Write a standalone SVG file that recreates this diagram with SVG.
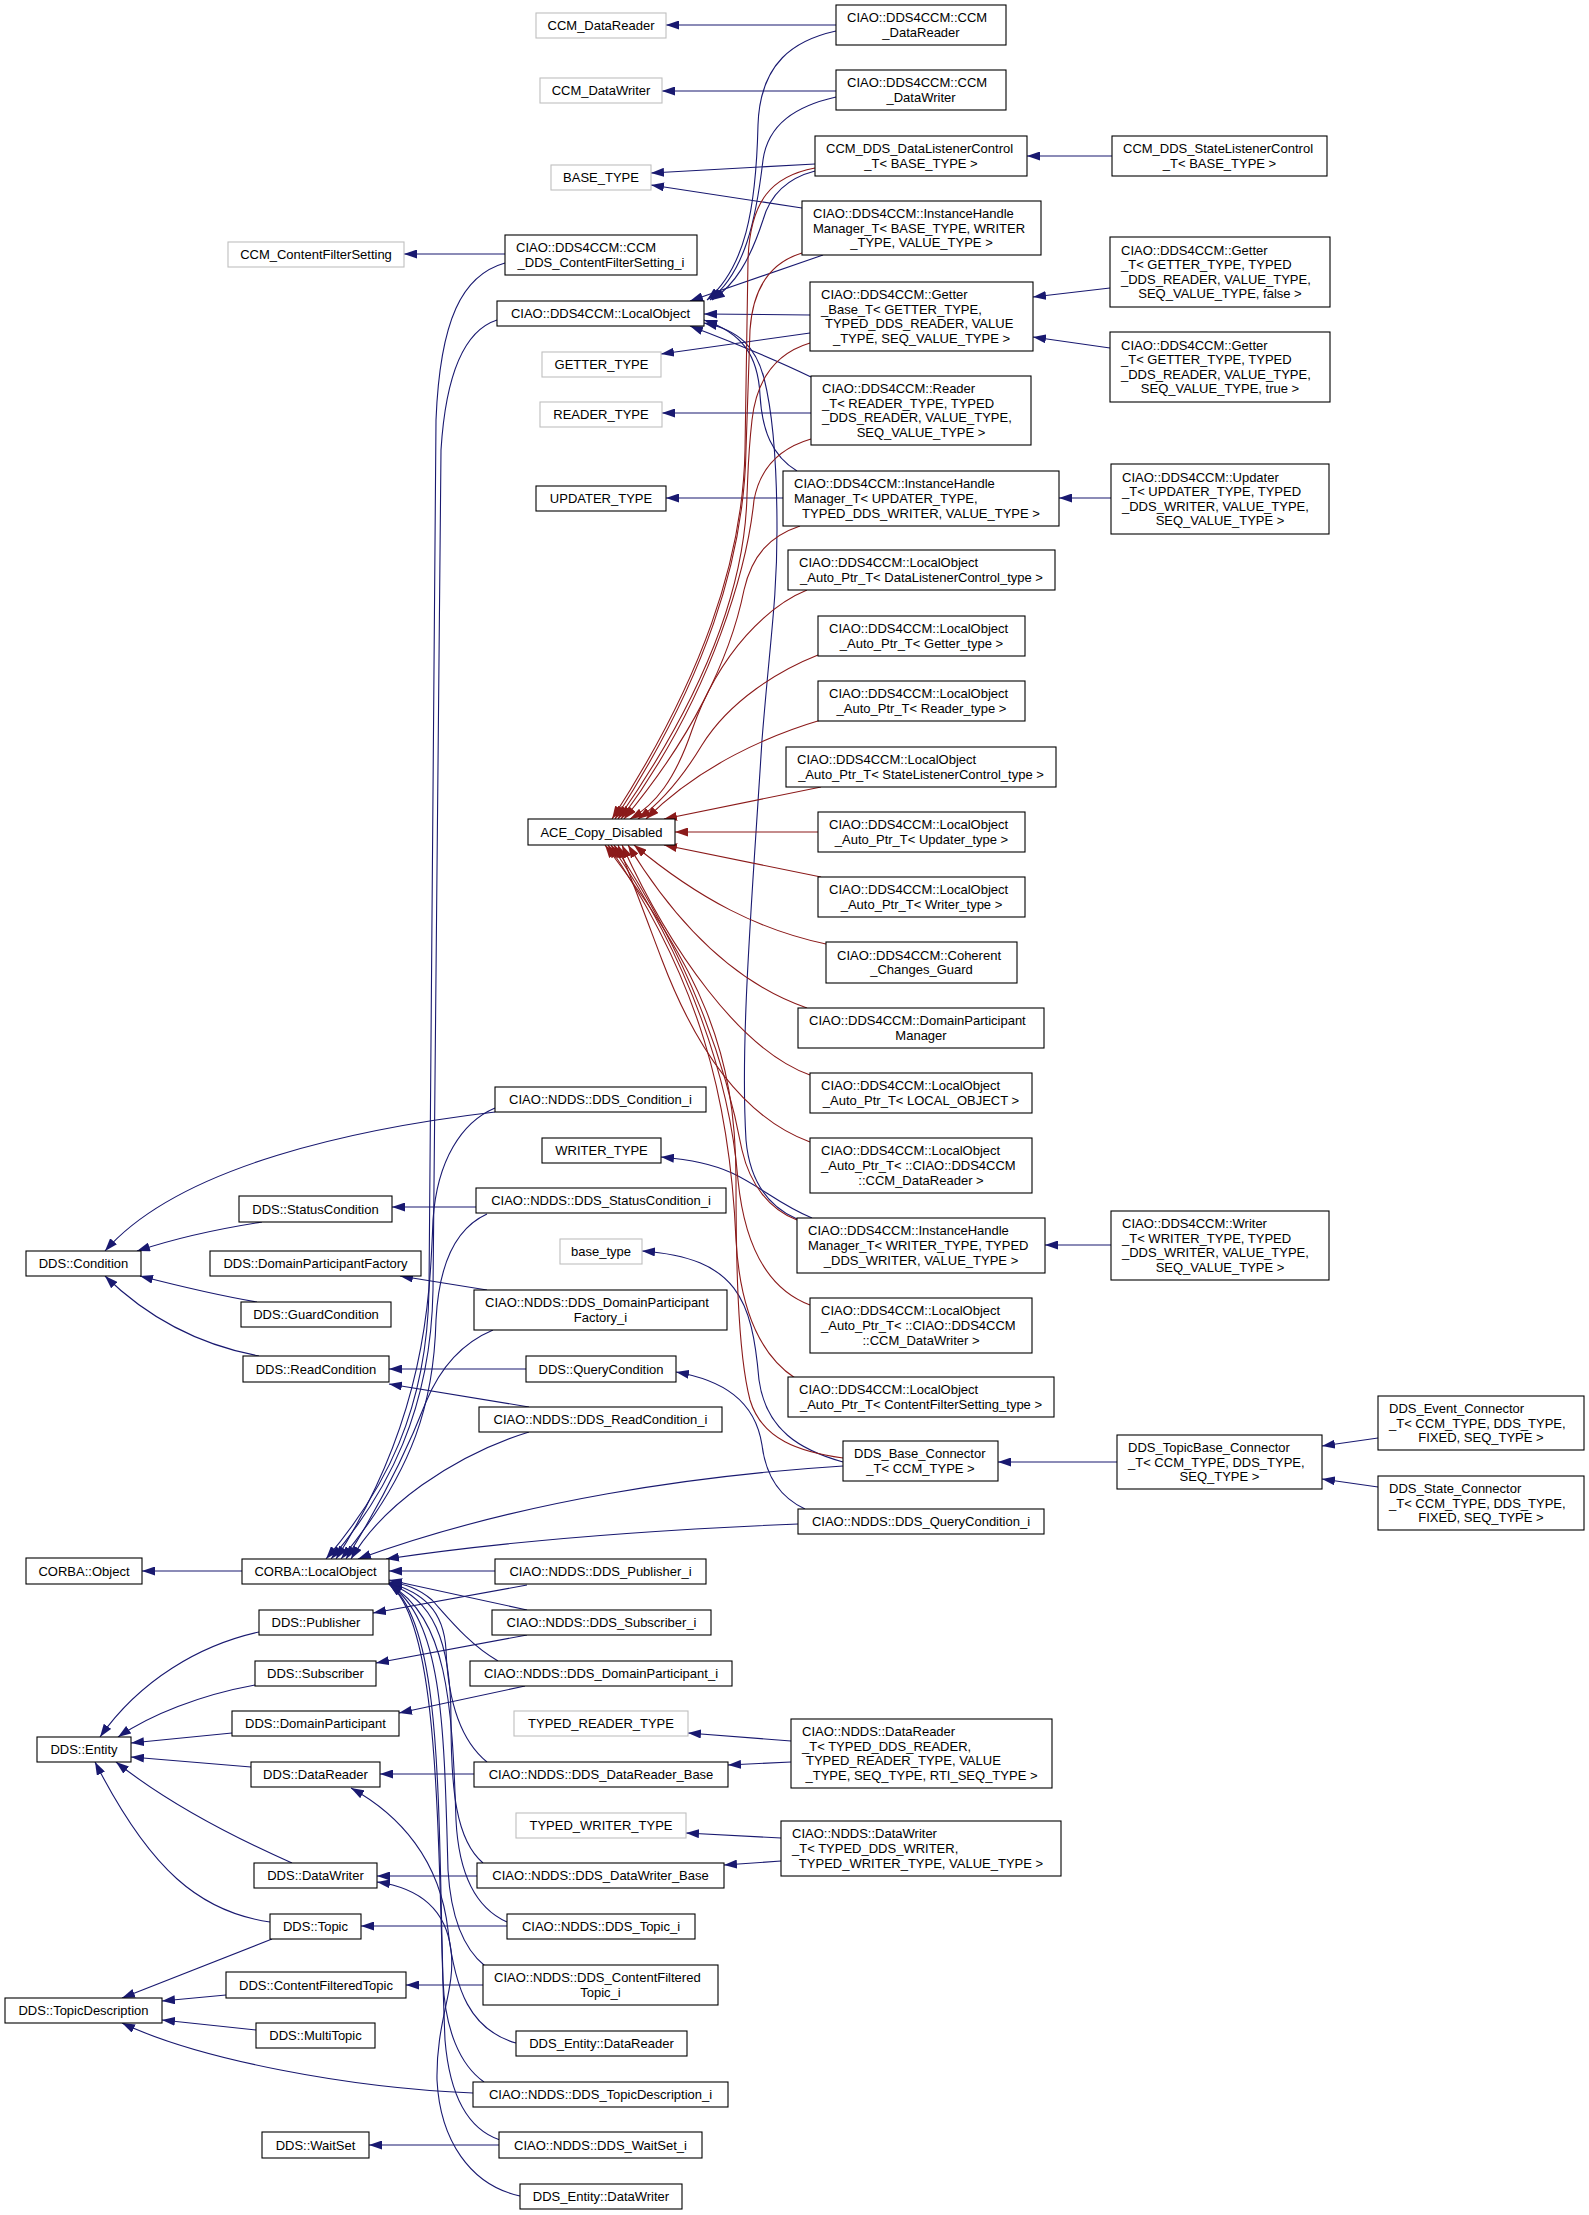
<svg xmlns="http://www.w3.org/2000/svg" width="1589" height="2215" viewBox="0 0 1589 2215">
<style>
.n rect{fill:#fff;stroke:#000;stroke-width:1.1}
.g rect{fill:#fff;stroke:#bfbfbf;stroke-width:1.1}
text{font-family:"Liberation Sans",Arial,Helvetica,sans-serif;font-size:13px;fill:#000}
.c{text-anchor:middle}
.b{fill:none;stroke:#191970;stroke-width:1.1;marker-end:url(#ab)}
.r{fill:none;stroke:#8b1a1a;stroke-width:1.1;marker-end:url(#ar)}
</style>
<defs>
<marker id="ab" viewBox="0 0 13 9" refX="13" refY="4.5" markerWidth="13" markerHeight="9" markerUnits="userSpaceOnUse" orient="auto"><path d="M0,0 L13,4.5 L0,9 z" fill="#191970"/></marker>
<marker id="ar" viewBox="0 0 13 9" refX="13" refY="4.5" markerWidth="13" markerHeight="9" markerUnits="userSpaceOnUse" orient="auto"><path d="M0,0 L13,4.5 L0,9 z" fill="#8b1a1a"/></marker>
</defs>
<rect width="1589" height="2215" fill="#fff"/>
<g id="connectors">
<path class="b" d="M836,25 L666,25"/>
<path class="b" d="M836,91 L662,91"/>
<path class="b" d="M815,164 L651,173"/>
<path class="b" d="M802,208 L651,185"/>
<path class="b" d="M1112,156 L1027,156"/>
<path class="b" d="M505,254 L404,254"/>
<path class="b" d="M810,315 L704,314"/>
<path class="b" d="M810,333 L661,354"/>
<path class="b" d="M1110,288 L1033,297"/>
<path class="b" d="M1110,348 L1033,337"/>
<path class="b" d="M811,413 L662,413"/>
<path class="b" d="M783,498 L666,498"/>
<path class="b" d="M1111,498 L1059,498"/>
<path class="b" d="M836,31 C795,40 760,62 758,125 C756,210 745,268 707,300"/>
<path class="b" d="M836,97 C796,106 768,124 763,160 C756,220 745,272 710,300"/>
<path class="b" d="M815,171 C788,178 770,195 763,220 C750,260 735,285 712,300"/>
<path class="b" d="M823,255 L690,301"/>
<path class="b" d="M811,377 C780,362 740,345 690,326"/>
<path class="b" d="M797,471 C772,456 762,430 760,395 C758,355 742,333 704,320"/>
<path class="b" d="M797,1219 C772,1208 750,1185 746,1140 C740,1040 752,900 762,740 C770,640 777,600 777,530 C777,460 772,410 764,378 C756,348 740,330 704,323"/>
<path class="b" d="M505,263 C462,275 440,320 436,420 L429,1290 C427,1410 385,1490 326,1559"/>
<path class="b" d="M497,320 C466,330 446,370 441,450 L433,1290 C431,1410 388,1492 331,1559"/>
<path class="b" d="M495,1108 C462,1122 437,1160 433,1220 C430,1300 425,1420 336,1559"/>
<path class="b" d="M487,1214 C456,1228 439,1262 436,1320 C434,1400 415,1470 341,1559"/>
<path class="b" d="M493,1330 C462,1343 440,1368 426,1402 C408,1448 383,1500 346,1559"/>
<path class="b" d="M529,1432 C490,1444 452,1464 422,1485 C394,1505 368,1530 351,1559"/>
<path class="b" d="M843,1466 C700,1475 520,1500 358,1559"/>
<path class="b" d="M798,1524 C650,1530 500,1542 386,1559"/>
<path class="b" d="M242,1571 L142,1571"/>
<path class="b" d="M495,1571 L389,1571"/>
<path class="b" d="M527,1585 L373,1613"/>
<path class="b" d="M527,1610 L389,1580"/>
<path class="b" d="M527,1635 L376,1663"/>
<path class="b" d="M498,1661 C470,1645 450,1620 432,1600 C418,1588 405,1584 389,1582"/>
<path class="b" d="M525,1686 L399,1713"/>
<path class="b" d="M487,1762 C460,1740 448,1700 446,1650 C444,1610 422,1592 389,1583"/>
<path class="b" d="M474,1774 L380,1774"/>
<path class="b" d="M791,1741 L688,1733"/>
<path class="b" d="M791,1762 L728,1765"/>
<path class="b" d="M483,1863 C456,1840 451,1790 451,1720 C451,1640 432,1598 389,1584"/>
<path class="b" d="M477,1876 L377,1876"/>
<path class="b" d="M781,1838 L686,1833"/>
<path class="b" d="M781,1861 L724,1865"/>
<path class="b" d="M507,1922 C480,1910 459,1880 456,1820 C452,1700 447,1618 389,1584"/>
<path class="b" d="M507,1926 L361,1926"/>
<path class="b" d="M485,1966 C465,1950 451,1920 448,1870 C444,1720 442,1620 389,1584"/>
<path class="b" d="M483,1985 L406,1985"/>
<path class="b" d="M484,2082 C460,2065 445,2030 443,1980 C438,1800 442,1622 389,1584"/>
<path class="b" d="M473,2093 C350,2088 200,2060 122,2023"/>
<path class="b" d="M500,2140 C470,2130 450,2100 445,2040 C437,1850 442,1624 389,1584"/>
<path class="b" d="M499,2145 L369,2145"/>
<path class="b" d="M516,2043 C470,2030 455,1990 448,1930 C440,1860 400,1815 351,1788"/>
<path class="b" d="M520,2196 C470,2185 440,2140 437,2080 C436,2020 456,1990 451,1950 C446,1910 420,1888 377,1882"/>
<path class="b" d="M259,1632 C200,1645 140,1680 100,1737"/>
<path class="b" d="M255,1685 C200,1695 150,1715 118,1737"/>
<path class="b" d="M232,1733 L131,1743"/>
<path class="b" d="M251,1767 L131,1757"/>
<path class="b" d="M292,1863 C240,1840 170,1805 116,1762"/>
<path class="b" d="M270,1922 C200,1912 150,1870 95,1762"/>
<path class="b" d="M272,1939 L122,1998"/>
<path class="b" d="M226,1995 L162,2001"/>
<path class="b" d="M256,2030 L162,2020"/>
<path class="b" d="M495,1112 C360,1128 180,1165 105,1251"/>
<path class="b" d="M262,1222 C210,1230 170,1240 137,1251"/>
<path class="b" d="M257,1302 C210,1294 175,1285 140,1276"/>
<path class="b" d="M259,1356 C200,1345 150,1320 105,1276"/>
<path class="b" d="M476,1207 L392,1207"/>
<path class="b" d="M487,1290 L400,1276"/>
<path class="b" d="M526,1369 L389,1369"/>
<path class="b" d="M529,1407 L389,1384"/>
<path class="b" d="M805,1509 C775,1495 765,1470 762,1445 C755,1400 722,1380 676,1372"/>
<path class="b" d="M843,1462 C800,1450 766,1430 759,1380 C752,1300 738,1258 642,1251"/>
<path class="b" d="M1117,1462 L998,1462"/>
<path class="b" d="M1378,1438 L1322,1446"/>
<path class="b" d="M1378,1487 L1322,1479"/>
<path class="b" d="M1111,1245 L1045,1245"/>
<path class="b" d="M812,1218 C780,1205 760,1186 732,1173 C712,1164 692,1160 661,1157"/>
<path class="r" d="M815,168 C772,176 750,200 748,260 L745,450 C743,560 702,680 612,819"/>
<path class="r" d="M802,253 C772,262 753,285 750,330 L746,450 C744,560 705,680 615,819"/>
<path class="r" d="M810,343 C780,352 757,375 752,420 C748,455 748,475 747,495 C745,585 708,690 618,819"/>
<path class="r" d="M811,439 C780,448 760,468 754,500 C748,560 716,690 621,819"/>
<path class="r" d="M800,526 C770,536 752,555 744,590 C730,660 690,740 624,819"/>
<path class="r" d="M807,590 C770,605 720,650 692,730 C675,780 655,805 630,819"/>
<path class="r" d="M818,655 C780,670 730,700 702,745 C682,778 662,802 638,819"/>
<path class="r" d="M821,720 C770,735 700,765 646,819"/>
<path class="r" d="M821,787 L664,819"/>
<path class="r" d="M818,832 L675,832"/>
<path class="r" d="M821,877 L664,845"/>
<path class="r" d="M826,944 C760,930 700,900 634,845"/>
<path class="r" d="M807,1008 C740,985 680,930 628,845"/>
<path class="r" d="M810,1075 C740,1050 670,950 622,845"/>
<path class="r" d="M810,1142 C750,1120 700,1060 662,960 C645,915 632,880 618,845"/>
<path class="r" d="M797,1220 C770,1210 750,1185 742,1150 C725,1060 690,960 614,845"/>
<path class="r" d="M810,1305 C770,1290 745,1250 738,1180 C730,1080 690,960 611,845"/>
<path class="r" d="M795,1378 C760,1355 740,1310 736,1240 C730,1100 700,980 608,845"/>
<path class="r" d="M843,1458 C800,1452 762,1440 750,1400 C737,1350 736,1250 736,1180 C736,1050 700,970 605,845"/>
</g>
<g id="n1" class="g"><rect x="536" y="13" width="130" height="25"/><text class="c" x="601" y="30">CCM_DataReader</text></g>
<g id="n2" class="n"><rect x="836" y="5" width="170" height="40"/><text x="847" y="22.2">CIAO::DDS4CCM::CCM</text><text class="c" x="921" y="36.8">_DataReader</text></g>
<g id="n3" class="g"><rect x="540" y="78" width="122" height="25"/><text class="c" x="601" y="95">CCM_DataWriter</text></g>
<g id="n4" class="n"><rect x="836" y="70" width="170" height="40"/><text x="847" y="87.2">CIAO::DDS4CCM::CCM</text><text class="c" x="921" y="101.8">_DataWriter</text></g>
<g id="n5" class="g"><rect x="551" y="165" width="100" height="25"/><text class="c" x="601" y="182">BASE_TYPE</text></g>
<g id="n6" class="n"><rect x="815" y="136" width="212" height="40"/><text x="826" y="153.2">CCM_DDS_DataListenerControl</text><text class="c" x="921" y="167.8">_T&lt; BASE_TYPE &gt;</text></g>
<g id="n7" class="n"><rect x="802" y="201" width="239" height="54"/><text x="813" y="217.9">CIAO::DDS4CCM::InstanceHandle</text><text x="813" y="232.5">Manager_T&lt; BASE_TYPE, WRITER</text><text class="c" x="921.5" y="247.1">_TYPE, VALUE_TYPE &gt;</text></g>
<g id="n8" class="n"><rect x="505" y="235" width="192" height="40"/><text x="516" y="252.2">CIAO::DDS4CCM::CCM</text><text class="c" x="601" y="266.8">_DDS_ContentFilterSetting_i</text></g>
<g id="n9" class="g"><rect x="228" y="242" width="176" height="25"/><text class="c" x="316" y="259">CCM_ContentFilterSetting</text></g>
<g id="n10" class="n"><rect x="497" y="301" width="207" height="25"/><text class="c" x="600.5" y="318">CIAO::DDS4CCM::LocalObject</text></g>
<g id="n11" class="g"><rect x="542" y="352" width="119" height="25"/><text class="c" x="601.5" y="369">GETTER_TYPE</text></g>
<g id="n12" class="n"><rect x="810" y="282" width="223" height="69"/><text x="821" y="299.1">CIAO::DDS4CCM::Getter</text><text x="821" y="313.7">_Base_T&lt; GETTER_TYPE,</text><text x="825" y="328.3">TYPED_DDS_READER, VALUE</text><text class="c" x="921.5" y="342.9">_TYPE, SEQ_VALUE_TYPE &gt;</text></g>
<g id="n13" class="g"><rect x="540" y="402" width="122" height="25"/><text class="c" x="601" y="419">READER_TYPE</text></g>
<g id="n14" class="n"><rect x="811" y="376" width="220" height="69"/><text x="822" y="393.1">CIAO::DDS4CCM::Reader</text><text x="822" y="407.7">_T&lt; READER_TYPE, TYPED</text><text x="822" y="422.3">_DDS_READER, VALUE_TYPE,</text><text class="c" x="921" y="436.9">SEQ_VALUE_TYPE &gt;</text></g>
<g id="n15" class="n"><rect x="536" y="486" width="130" height="25"/><text class="c" x="601" y="503">UPDATER_TYPE</text></g>
<g id="n16" class="n"><rect x="783" y="471" width="276" height="55"/><text x="794" y="488.4">CIAO::DDS4CCM::InstanceHandle</text><text x="794" y="503">Manager_T&lt; UPDATER_TYPE,</text><text class="c" x="921" y="517.6">TYPED_DDS_WRITER, VALUE_TYPE &gt;</text></g>
<g id="n17" class="n"><rect x="1112" y="136" width="215" height="40"/><text x="1123" y="153.2">CCM_DDS_StateListenerControl</text><text class="c" x="1219.5" y="167.8">_T&lt; BASE_TYPE &gt;</text></g>
<g id="n18" class="n"><rect x="1110" y="237" width="220" height="70"/><text x="1121" y="254.6">CIAO::DDS4CCM::Getter</text><text x="1121" y="269.2">_T&lt; GETTER_TYPE, TYPED</text><text x="1121" y="283.8">_DDS_READER, VALUE_TYPE,</text><text class="c" x="1220" y="298.4">SEQ_VALUE_TYPE, false &gt;</text></g>
<g id="n19" class="n"><rect x="1110" y="332" width="220" height="70"/><text x="1121" y="349.6">CIAO::DDS4CCM::Getter</text><text x="1121" y="364.2">_T&lt; GETTER_TYPE, TYPED</text><text x="1121" y="378.8">_DDS_READER, VALUE_TYPE,</text><text class="c" x="1220" y="393.4">SEQ_VALUE_TYPE, true &gt;</text></g>
<g id="n20" class="n"><rect x="1111" y="464" width="218" height="70"/><text x="1122" y="481.6">CIAO::DDS4CCM::Updater</text><text x="1122" y="496.2">_T&lt; UPDATER_TYPE, TYPED</text><text x="1122" y="510.8">_DDS_WRITER, VALUE_TYPE,</text><text class="c" x="1220" y="525.4">SEQ_VALUE_TYPE &gt;</text></g>
<g id="n21" class="n"><rect x="788" y="550" width="267" height="40"/><text x="799" y="567.2">CIAO::DDS4CCM::LocalObject</text><text class="c" x="921.5" y="581.8">_Auto_Ptr_T&lt; DataListenerControl_type &gt;</text></g>
<g id="n22" class="n"><rect x="818" y="616" width="207" height="40"/><text x="829" y="633.2">CIAO::DDS4CCM::LocalObject</text><text class="c" x="921.5" y="647.8">_Auto_Ptr_T&lt; Getter_type &gt;</text></g>
<g id="n23" class="n"><rect x="818" y="681" width="207" height="40"/><text x="829" y="698.2">CIAO::DDS4CCM::LocalObject</text><text class="c" x="921.5" y="712.8">_Auto_Ptr_T&lt; Reader_type &gt;</text></g>
<g id="n24" class="n"><rect x="786" y="747" width="270" height="40"/><text x="797" y="764.2">CIAO::DDS4CCM::LocalObject</text><text class="c" x="921" y="778.8">_Auto_Ptr_T&lt; StateListenerControl_type &gt;</text></g>
<g id="n25" class="n"><rect x="528" y="819" width="147" height="26"/><text class="c" x="601.5" y="836.5">ACE_Copy_Disabled</text></g>
<g id="n26" class="n"><rect x="818" y="812" width="207" height="40"/><text x="829" y="829.2">CIAO::DDS4CCM::LocalObject</text><text class="c" x="921.5" y="843.8">_Auto_Ptr_T&lt; Updater_type &gt;</text></g>
<g id="n27" class="n"><rect x="818" y="877" width="207" height="40"/><text x="829" y="894.2">CIAO::DDS4CCM::LocalObject</text><text class="c" x="921.5" y="908.8">_Auto_Ptr_T&lt; Writer_type &gt;</text></g>
<g id="n28" class="n"><rect x="826" y="942" width="191" height="41"/><text x="837" y="959.7">CIAO::DDS4CCM::Coherent</text><text class="c" x="921.5" y="974.3">_Changes_Guard</text></g>
<g id="n29" class="n"><rect x="798" y="1008" width="246" height="40"/><text x="809" y="1025.2">CIAO::DDS4CCM::DomainParticipant</text><text class="c" x="921" y="1039.8">Manager</text></g>
<g id="n30" class="n"><rect x="810" y="1073" width="222" height="40"/><text x="821" y="1090.2">CIAO::DDS4CCM::LocalObject</text><text class="c" x="921" y="1104.8">_Auto_Ptr_T&lt; LOCAL_OBJECT &gt;</text></g>
<g id="n31" class="n"><rect x="810" y="1138" width="222" height="55"/><text x="821" y="1155.4">CIAO::DDS4CCM::LocalObject</text><text x="821" y="1170">_Auto_Ptr_T&lt; ::CIAO::DDS4CCM</text><text class="c" x="921" y="1184.6">::CCM_DataReader &gt;</text></g>
<g id="n32" class="n"><rect x="495" y="1087" width="211" height="25"/><text class="c" x="600.5" y="1104">CIAO::NDDS::DDS_Condition_i</text></g>
<g id="n33" class="n"><rect x="542" y="1138" width="119" height="25"/><text class="c" x="601.5" y="1155">WRITER_TYPE</text></g>
<g id="n34" class="n"><rect x="476" y="1188" width="250" height="25"/><text class="c" x="601" y="1205">CIAO::NDDS::DDS_StatusCondition_i</text></g>
<g id="n35" class="n"><rect x="797" y="1218" width="248" height="55"/><text x="808" y="1235.4">CIAO::DDS4CCM::InstanceHandle</text><text x="808" y="1250">Manager_T&lt; WRITER_TYPE, TYPED</text><text class="c" x="921" y="1264.6">_DDS_WRITER, VALUE_TYPE &gt;</text></g>
<g id="n36" class="g"><rect x="560" y="1239" width="82" height="25"/><text class="c" x="601" y="1256">base_type</text></g>
<g id="n37" class="n"><rect x="474" y="1290" width="253" height="40"/><text x="485" y="1307.2">CIAO::NDDS::DDS_DomainParticipant</text><text class="c" x="600.5" y="1321.8">Factory_i</text></g>
<g id="n38" class="n"><rect x="810" y="1298" width="222" height="55"/><text x="821" y="1315.4">CIAO::DDS4CCM::LocalObject</text><text x="821" y="1330">_Auto_Ptr_T&lt; ::CIAO::DDS4CCM</text><text class="c" x="921" y="1344.6">::CCM_DataWriter &gt;</text></g>
<g id="n39" class="n"><rect x="526" y="1356" width="150" height="26"/><text class="c" x="601" y="1373.5">DDS::QueryCondition</text></g>
<g id="n40" class="n"><rect x="788" y="1377" width="266" height="40"/><text x="799" y="1394.2">CIAO::DDS4CCM::LocalObject</text><text class="c" x="921" y="1408.8">_Auto_Ptr_T&lt; ContentFilterSetting_type &gt;</text></g>
<g id="n41" class="n"><rect x="479" y="1407" width="243" height="25"/><text class="c" x="600.5" y="1424">CIAO::NDDS::DDS_ReadCondition_i</text></g>
<g id="n42" class="n"><rect x="843" y="1441" width="155" height="40"/><text x="854" y="1458.2">DDS_Base_Connector</text><text class="c" x="920.5" y="1472.8">_T&lt; CCM_TYPE &gt;</text></g>
<g id="n43" class="n"><rect x="1111" y="1211" width="218" height="69"/><text x="1122" y="1228.1">CIAO::DDS4CCM::Writer</text><text x="1122" y="1242.7">_T&lt; WRITER_TYPE, TYPED</text><text x="1122" y="1257.3">_DDS_WRITER, VALUE_TYPE,</text><text class="c" x="1220" y="1271.9">SEQ_VALUE_TYPE &gt;</text></g>
<g id="n44" class="n"><rect x="1117" y="1435" width="205" height="54"/><text x="1128" y="1451.9">DDS_TopicBase_Connector</text><text x="1128" y="1466.5">_T&lt; CCM_TYPE, DDS_TYPE,</text><text class="c" x="1219.5" y="1481.1">SEQ_TYPE &gt;</text></g>
<g id="n45" class="n"><rect x="1378" y="1396" width="206" height="54"/><text x="1389" y="1412.9">DDS_Event_Connector</text><text x="1389" y="1427.5">_T&lt; CCM_TYPE, DDS_TYPE,</text><text class="c" x="1481" y="1442.1">FIXED, SEQ_TYPE &gt;</text></g>
<g id="n46" class="n"><rect x="1378" y="1476" width="206" height="54"/><text x="1389" y="1492.9">DDS_State_Connector</text><text x="1389" y="1507.5">_T&lt; CCM_TYPE, DDS_TYPE,</text><text class="c" x="1481" y="1522.1">FIXED, SEQ_TYPE &gt;</text></g>
<g id="n47" class="n"><rect x="239" y="1196" width="153" height="26"/><text class="c" x="315.5" y="1213.5">DDS::StatusCondition</text></g>
<g id="n48" class="n"><rect x="26" y="1251" width="115" height="25"/><text class="c" x="83.5" y="1268">DDS::Condition</text></g>
<g id="n49" class="n"><rect x="210" y="1251" width="211" height="25"/><text class="c" x="315.5" y="1268">DDS::DomainParticipantFactory</text></g>
<g id="n50" class="n"><rect x="241" y="1302" width="150" height="25"/><text class="c" x="316" y="1319">DDS::GuardCondition</text></g>
<g id="n51" class="n"><rect x="243" y="1356" width="146" height="26"/><text class="c" x="316" y="1373.5">DDS::ReadCondition</text></g>
<g id="n52" class="n"><rect x="26" y="1558" width="116" height="26"/><text class="c" x="84" y="1575.5">CORBA::Object</text></g>
<g id="n53" class="n"><rect x="242" y="1559" width="147" height="25"/><text class="c" x="315.5" y="1576">CORBA::LocalObject</text></g>
<g id="n54" class="n"><rect x="259" y="1610" width="114" height="25"/><text class="c" x="316" y="1627">DDS::Publisher</text></g>
<g id="n55" class="n"><rect x="255" y="1661" width="121" height="25"/><text class="c" x="315.5" y="1678">DDS::Subscriber</text></g>
<g id="n56" class="n"><rect x="232" y="1711" width="167" height="25"/><text class="c" x="315.5" y="1728">DDS::DomainParticipant</text></g>
<g id="n57" class="n"><rect x="37" y="1737" width="94" height="25"/><text class="c" x="84" y="1754">DDS::Entity</text></g>
<g id="n58" class="n"><rect x="251" y="1762" width="129" height="25"/><text class="c" x="315.5" y="1779">DDS::DataReader</text></g>
<g id="n59" class="n"><rect x="254" y="1863" width="123" height="25"/><text class="c" x="315.5" y="1880">DDS::DataWriter</text></g>
<g id="n60" class="n"><rect x="270" y="1914" width="91" height="25"/><text class="c" x="315.5" y="1931">DDS::Topic</text></g>
<g id="n61" class="n"><rect x="226" y="1972" width="180" height="26"/><text class="c" x="316" y="1989.5">DDS::ContentFilteredTopic</text></g>
<g id="n62" class="n"><rect x="5" y="1998" width="157" height="25"/><text class="c" x="83.5" y="2015">DDS::TopicDescription</text></g>
<g id="n63" class="n"><rect x="256" y="2023" width="119" height="25"/><text class="c" x="315.5" y="2040">DDS::MultiTopic</text></g>
<g id="n64" class="n"><rect x="262" y="2132" width="107" height="26"/><text class="c" x="315.5" y="2149.5">DDS::WaitSet</text></g>
<g id="n65" class="n"><rect x="798" y="1509" width="246" height="25"/><text class="c" x="921" y="1526">CIAO::NDDS::DDS_QueryCondition_i</text></g>
<g id="n66" class="n"><rect x="495" y="1559" width="211" height="25"/><text class="c" x="600.5" y="1576">CIAO::NDDS::DDS_Publisher_i</text></g>
<g id="n67" class="n"><rect x="492" y="1610" width="219" height="25"/><text class="c" x="601.5" y="1627">CIAO::NDDS::DDS_Subscriber_i</text></g>
<g id="n68" class="n"><rect x="470" y="1661" width="262" height="25"/><text class="c" x="601" y="1678">CIAO::NDDS::DDS_DomainParticipant_i</text></g>
<g id="n69" class="g"><rect x="514" y="1711" width="174" height="25"/><text class="c" x="601" y="1728">TYPED_READER_TYPE</text></g>
<g id="n70" class="n"><rect x="474" y="1762" width="254" height="25"/><text class="c" x="601" y="1779">CIAO::NDDS::DDS_DataReader_Base</text></g>
<g id="n71" class="n"><rect x="791" y="1719" width="261" height="69"/><text x="802" y="1736.1">CIAO::NDDS::DataReader</text><text x="802" y="1750.7">_T&lt; TYPED_DDS_READER,</text><text x="806" y="1765.3">TYPED_READER_TYPE, VALUE</text><text class="c" x="921.5" y="1779.9">_TYPE, SEQ_TYPE, RTI_SEQ_TYPE &gt;</text></g>
<g id="n72" class="g"><rect x="516" y="1813" width="170" height="25"/><text class="c" x="601" y="1830">TYPED_WRITER_TYPE</text></g>
<g id="n73" class="n"><rect x="477" y="1863" width="247" height="25"/><text class="c" x="600.5" y="1880">CIAO::NDDS::DDS_DataWriter_Base</text></g>
<g id="n74" class="n"><rect x="781" y="1821" width="280" height="55"/><text x="792" y="1838.4">CIAO::NDDS::DataWriter</text><text x="792" y="1853">_T&lt; TYPED_DDS_WRITER,</text><text class="c" x="921" y="1867.6">TYPED_WRITER_TYPE, VALUE_TYPE &gt;</text></g>
<g id="n75" class="n"><rect x="507" y="1914" width="188" height="25"/><text class="c" x="601" y="1931">CIAO::NDDS::DDS_Topic_i</text></g>
<g id="n76" class="n"><rect x="483" y="1965" width="235" height="40"/><text x="494" y="1982.2">CIAO::NDDS::DDS_ContentFiltered</text><text class="c" x="600.5" y="1996.8">Topic_i</text></g>
<g id="n77" class="n"><rect x="516" y="2031" width="171" height="25"/><text class="c" x="601.5" y="2048">DDS_Entity::DataReader</text></g>
<g id="n78" class="n"><rect x="473" y="2082" width="255" height="25"/><text class="c" x="600.5" y="2099">CIAO::NDDS::DDS_TopicDescription_i</text></g>
<g id="n79" class="n"><rect x="499" y="2132" width="203" height="26"/><text class="c" x="600.5" y="2149.5">CIAO::NDDS::DDS_WaitSet_i</text></g>
<g id="n80" class="n"><rect x="520" y="2184" width="162" height="25"/><text class="c" x="601" y="2201">DDS_Entity::DataWriter</text></g>
</svg>
